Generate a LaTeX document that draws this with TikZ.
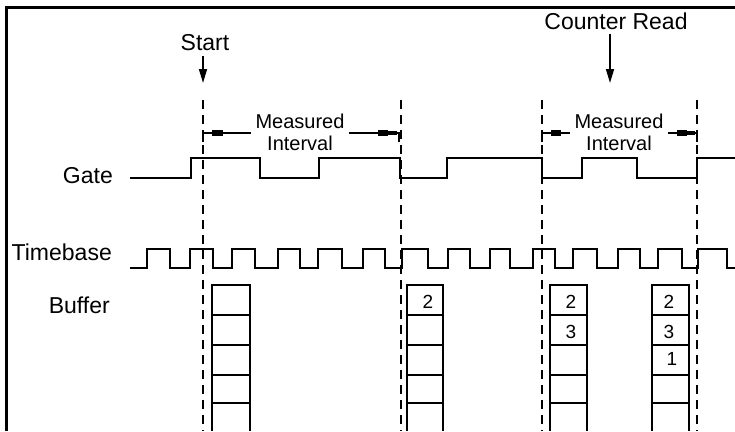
\documentclass[tikz,border=0pt]{standalone}
\usepackage{fontspec}
\setmainfont{Liberation Sans}
\usetikzlibrary{arrows.meta}
\begin{document}
\begin{tikzpicture}[x=1pt,y=-1pt,
  sig/.style={line width=2pt, line join=miter},
  guide/.style={line width=2pt, dash pattern=on 9pt off 6pt},
  lbl/.style={font=\fontsize{23}{25}\selectfont, inner sep=0pt},
  ivtext/.style={font=\fontsize{20}{22}\selectfont, inner sep=0pt, align=center},
  digit/.style={font=\fontsize{19}{21}\selectfont, inner sep=0pt},
  cell/.style={line width=1.6pt},
  trig/.style={line width=1.6pt, -{Triangle[length=14pt,width=8pt]}},
  ival/.style={line width=1.6pt},
  ivhead/.style={fill=black},
]
\useasboundingbox (0,0) rectangle (735,431);

% frame
\draw[line width=3pt] (6.5,431) -- (6.5,7) -- (735,7);

% labels
\node[lbl] (start) at (205,43) {Start};
\node[lbl] (cread) at (616,21) {Counter Read};
\node[lbl, anchor=east] (gate) at (113,176) {Gate};
\node[lbl, anchor=east] (tb) at (112,252) {Timebase};
\node[lbl, anchor=east] (buf) at (110,305) {Buffer};

% trigger arrows
\coordinate (sa) at (203,83);
\coordinate (ca) at (610,83);
\draw[trig, shorten <=5pt] (sa |- start.south) -- (sa);
\draw[trig, shorten <=4pt] (ca |- cread.south) -- (ca);

% dashed guides
\coordinate (d1t) at (203,100); \coordinate (d1b) at (203,431);
\coordinate (d2t) at (401,100); \coordinate (d2b) at (401,431);
\coordinate (d3t) at (542,100); \coordinate (d3b) at (542,431);
\coordinate (d4t) at (697,100); \coordinate (d4b) at (697,431);
\draw[guide] (d1t) -- (d1b);
\draw[guide] (d2t) -- (d2b);
\draw[guide] (d3t) -- (d3b);
\draw[guide] (d4t) -- (d4b);

% measured intervals
\node[ivtext] (mi1) at (300,132) {Measured\\Interval};
\node[ivtext] (mi2) at (619,132) {Measured\\Interval};

\coordinate (i1L) at (203,133); \coordinate (i1R) at (399,133);
\coordinate (i2L) at (542,133); \coordinate (i2R) at (697,133);

\draw[ival] ([yshift=-9pt]i1L) -- (i1L) -- ([xshift=-4pt]i1L -| mi1.west);
\fill[ivhead] ([shift={(9,-3)}]i1L) rectangle ([shift={(20,3)}]i1L);
\draw[ival] ([xshift=4pt]i1R -| mi1.east) -- (i1R) -- ([yshift=-9pt]i1R);
\fill[ivhead] ([shift={(-21,-3)}]i1R) rectangle ([shift={(-11,3)}]i1R);
\draw[line width=3.5pt] ([xshift=-12pt]i1R) -- ([xshift=-2pt]i1R);

\draw[ival] ([yshift=-9pt]i2L) -- (i2L) -- ([xshift=-4pt]i2L -| mi2.west);
\fill[ivhead] ([shift={(9,-3)}]i2L) rectangle ([shift={(19,3)}]i2L);
\draw[ival] ([xshift=4pt]i2R -| mi2.east) -- (i2R) -- ([yshift=-9pt]i2R);
\fill[ivhead] ([shift={(-20,-3)}]i2R) rectangle ([shift={(-10,3)}]i2R);
\draw[line width=3.5pt] ([xshift=-11pt]i2R) -- ([xshift=-2pt]i2R);

% gate signal
\draw[sig] (130,178) -| (191,158) -| (260,178) -| (319,158) -| (400,178)
  -| (447,158) -| (542,178) -| (582,158) -| (637,178) -| (697,158) -- (735,158);

% timebase signal
\draw[sig] (130,268) -| (147,249) -| (170,268) -| (190,249) -| (213,268)
  -| (232,249) -| (255,268) -| (278,249) -| (300,268) -| (318,249)
  -| (342,268) -| (363,249) -| (385,268) -| (402,249) -| (428,268)
  -| (448,249) -| (470,268) -| (490,249) -| (510,268) -| (533,249)
  -| (555,268) -| (573,249) -| (597,268) -| (618,249) -| (640,268)
  -| (658,249) -| (682,268) -| (698,249) -| (727,268) -- (735,268);

% buffers
\foreach \xa/\xb in {212/250, 407/443, 550/587, 652/689} {
  \draw[cell] (\xa,431) -- (\xa,285) -- (\xb,285) -- (\xb,431);
  \foreach \yy in {315,345,375,403} {
    \draw[cell] (\xa,\yy) -- (\xb,\yy);
  }
}
\node[digit] (b2a) at (428,302) {2};
\node[digit] (b3a) at (571,302) {2};
\node[digit] (b3b) at (571,332) {3};
\node[digit] (b4a) at (669,302) {2};
\node[digit] (b4b) at (669,332) {3};
\node[digit] (b4c) at (672,359) {1};
\end{tikzpicture}
\end{document}
